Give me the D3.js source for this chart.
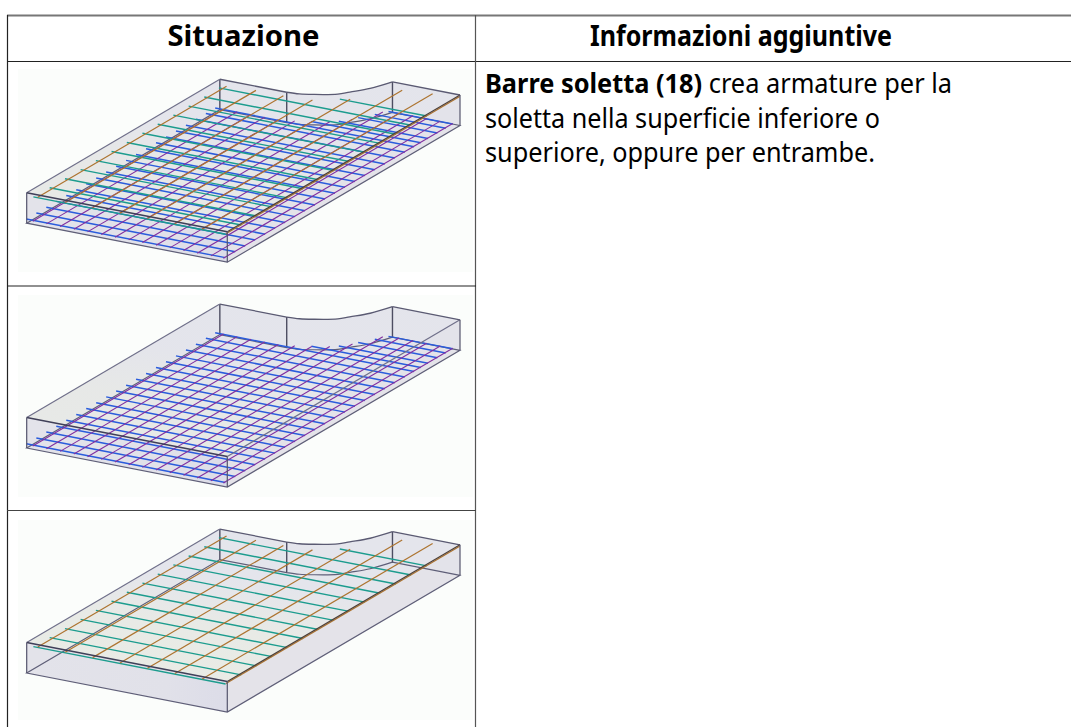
<!DOCTYPE html>
<html>
<head>
<meta charset="utf-8">
<script src="https://cdn.jsdelivr.net/npm/d3@7"></script>
<style>
  html,body{margin:0;padding:0;background:#fff;overflow:hidden}
  text{font-family:"Noto Sans",sans-serif;fill:#000}
</style>
</head>
<body>
<div id="chart"></div>
<script>
const headers = ["Situazione","Informazioni aggiuntive"]
const headerWidths = [152,302]
const bodyLines = [
  [["Barre soletta (18)",true],[" crea armature per la",false]],
  [["soletta nella superficie inferiore o",false]],
  [["superiore, oppure per entrambe.",false]]
]
const bodyWidths = [467,395,390]
// which bars each picture shows
const rowTop = [true,false,true]
const rowBottom = [true,true,false]

// slab plan, u along the front, v towards the back
const notchU = [398,373,341,322,267,235,200]
const notchV = [700,658,629,612,592,584,581]

// top layer: orange long bars, teal cross bars
const topLongU = [36,118,200,282,364,446,528,599]
const topLongEnd = [565,571,571,576,607,681,690,700]
const topCrossV = [-5,42,88,135,181,228,274,321,367,414,460,507,553,600]
const topCrossStart = [25,27,27,27,27,27,27,27,27,27,27,27,25,340]

// bottom layer: purple long bars, blue cross bars
const botLongU = [20,61,102,143,184,225,266,307,348,389,430,471,512,553,590]
const botLongEnd = [572,572,572,572,572,580,590,603,630,680,688,688,688,688,688]
const botCrossV = [2,32,62,92,122,152,182,212,242,272,302,332,362,392,422,452,482,512,542,570,590,612,640,665,686]
const botCrossStart = [-3,-3,-3,-3,-3,-3,-3,-3,-3,-3,-3,-3,-3,-3,-3,-3,-3,-3,-3,-3,265,325,355,380,400]

let width = 1071, height = 727

let svg = d3.select("#chart").append("svg").attr("width",width).attr("height",height).style("display","block")

let defs = svg.append("defs")
defs.append("filter").attr("id","soft").attr("x","-2%").attr("y","-2%").attr("width","104%").attr("height","104%")
  .append("feGaussianBlur").attr("stdDeviation",0.4)
let grad = defs.append("linearGradient").attr("id","topFace").attr("x1",0).attr("y1",1).attr("x2",0.35).attr("y2",0)
grad.append("stop").attr("offset",0).attr("stop-color","#e9ece5")
grad.append("stop").attr("offset",0.45).attr("stop-color","#e8eae6")
grad.append("stop").attr("offset",0.75).attr("stop-color","#e4e5ec")
let frontGrad = defs.append("linearGradient").attr("id","frontFace").attr("x1",0).attr("y1",0).attr("x2",1).attr("y2",0)
frontGrad.append("stop").attr("offset",0).attr("stop-color","#e3e3ea")
frontGrad.append("stop").attr("offset",0.7).attr("stop-color","#e1e1e9")
frontGrad.append("stop").attr("offset",1).attr("stop-color","#dcdce8")

// axonometric scales, screen px per plan unit
let xU = d3.scaleLinear().domain([0,600]).range([0,200.6])
let yU = d3.scaleLinear().domain([0,600]).range([0,39])
let xV = d3.scaleLinear().domain([0,700]).range([0,232.7])
let yV = d3.scaleLinear().domain([0,700]).range([0,-136.7])
let zY = d3.scaleLinear().domain([0,1]).range([30.5,0])

let notch = notchU.map((u,i)=>[u,notchV[i]])

function drawSlab(g,showTop,showBottom){
  let p = (u,v,z)=>[xU(u)+xV(v),yU(u)+yV(v)+zY(z)]
  let line = d3.line().x(d=>d[0]).y(d=>d[1])
  let curve = d3.line().x(d=>d[0]).y(d=>d[1]).curve(d3.curveCatmullRom)
  let arc = z=>curve(notch.map(d=>p(d[0],d[1],z)))
  let ring = z=>line([p(600,700,z)]) + arc(z).replace(/^M/,"L") +
      line([p(0,581,z),p(0,0,z),p(600,0,z)]).replace(/^M/,"L") + "Z"

  // faces
  g.append("path").attr("d",ring(0)).attr("fill","#e3e3ea")
  g.append("path").attr("d",line([p(600,0,1),p(600,700,1),p(600,700,0),p(600,0,0)])+"Z").attr("fill","#e4e3e9")
  g.append("path").attr("d",line([p(0,0,1),p(600,0,1),p(600,0,0),p(0,0,0)])+"Z").attr("fill","url(#frontFace)")
  g.append("path").attr("d",line([p(0,0,1),p(0,581,1),p(0,581,0),p(0,0,0)])+"Z").attr("fill","#e3e3ea")
  g.append("path").attr("d",arc(1)+curve(notch.slice().reverse().map(d=>p(d[0],d[1],0))).replace(/^M/,"L")+"Z").attr("fill","#e3e3ea")
  g.append("path").attr("d",line([p(0,581,1),p(200,581,1),p(200,581,0),p(0,581,0)])+"Z").attr("fill","#e3e3ea")
  g.append("path").attr("d",line([p(398,700,1),p(600,700,1),p(600,700,0),p(398,700,0)])+"Z").attr("fill","#e3e3ea")
  g.append("path").attr("d",ring(1)).attr("fill","url(#topFace)").attr("fill-opacity",showTop&&!showBottom?1:0.75)

  // bottom outline and back verticals sit under the bars
  g.append("path").attr("d",ring(0)).attr("fill","none").attr("stroke","#5f5f78").attr("stroke-width",1.2)
  let verticals = [[0,581],[200,581],[398,700]]
  g.selectAll(".back").data(verticals).enter().append("path")
    .attr("d",d=>line([p(d[0],d[1],1),p(d[0],d[1],0)]))
    .attr("stroke","#4e4e62").attr("stroke-width",1.4)

  if(showBottom){
    g.selectAll(".cross").data(botCrossV).enter().append("path")
      .attr("d",(d,i)=>line([p(botCrossStart[i],d,0.12),p(592,d,0.12)]))
      .attr("stroke","#2a5cdc").attr("stroke-width",1.5).attr("fill","none")
    g.selectAll(".long").data(botLongU).enter().append("path")
      .attr("d",(d,i)=>line([p(d,-2,0.12),p(d,botLongEnd[i],0.12)]))
      .attr("stroke","#8230a0").attr("stroke-width",1.1).attr("fill","none")
  }
  if(showTop){
    g.selectAll(".tcross").data(topCrossV).enter().append("path")
      .attr("d",(d,i)=>line([p(topCrossStart[i],d,0.95),p(600,d,0.95)]))
      .attr("stroke","#1c9c8e").attr("stroke-width",1.4).attr("fill","none")
    g.selectAll(".tlong").data(topLongU).enter().append("path")
      .attr("d",(d,i)=>line([p(d,-3,0.95),p(d,topLongEnd[i],0.95)]))
      .attr("stroke","#ad7430").attr("stroke-width",1.2).attr("fill","none")
  }

  // top outline and the near verticals over the bars
  g.append("path").attr("d",arc(1)).attr("fill","none").attr("stroke","#5a5a72").attr("stroke-width",1.3)
  g.append("path").attr("d",line([p(600,700,1),p(398,700,1)])).attr("stroke","#5a5a72").attr("stroke-width",1.3)
  g.append("path").attr("d",line([p(200,581,1),p(0,581,1)])).attr("stroke","#5a5a72").attr("stroke-width",1.3)
  g.append("path").attr("d",line([p(0,581,1),p(0,0,1)])).attr("stroke","#70708a").attr("stroke-width",1.2)
  g.append("path").attr("d",line([p(600,0,1),p(600,700,1)])).attr("stroke",showTop?"#4f4038":"#70708a").attr("stroke-width",1.2)
  g.append("path").attr("d",line([p(0,0,1),p(600,0,1)])).attr("stroke","#3f3f58").attr("stroke-width",1.4)
  let sides = [[0,0],[600,0],[600,700]]
  g.selectAll(".side").data(sides).enter().append("path")
    .attr("d",d=>line([p(d[0],d[1],1),p(d[0],d[1],0)]))
    .attr("stroke","#55556c").attr("stroke-width",1.2)
}

// pictures
let rowY = [69,295,520]
let rowH = [203,202,200]
let originY = [192.7,417.5,642.5]
rowY.forEach((y,i)=>{
  let pic = svg.append("g").attr("filter","url(#soft)")
  pic.append("rect").attr("x",18).attr("y",y).attr("width",455).attr("height",rowH[i]).attr("fill","#fbfdfb")
  let g = pic.append("g").attr("transform",`translate(26.7,${originY[i]})`)
  drawSlab(g,rowTop[i],rowBottom[i])
})

// table rules
svg.append("line").attr("x1",7).attr("x2",width).attr("y1",15.5).attr("y2",15.5).attr("stroke","#777").attr("stroke-width",2)
svg.append("line").attr("x1",7).attr("x2",width).attr("y1",61.5).attr("y2",61.5).attr("stroke","#222").attr("stroke-width",1)
svg.append("line").attr("x1",7.5).attr("x2",7.5).attr("y1",15).attr("y2",height).attr("stroke","#222").attr("stroke-width",1.2)
svg.append("line").attr("x1",475.5).attr("x2",475.5).attr("y1",15).attr("y2",height).attr("stroke","#555").attr("stroke-width",1.2)
svg.append("line").attr("x1",7).attr("x2",476).attr("y1",286).attr("y2",286).attr("stroke","#222").attr("stroke-width",1.2)
svg.append("line").attr("x1",7).attr("x2",476).attr("y1",510.5).attr("y2",510.5).attr("stroke","#444").attr("stroke-width",1.2)

// text, the source picture squeezes it a bit so widths are forced
let headerX = [243.5,741]
svg.selectAll(".head").data(headers).enter().append("text")
  .attr("x",(d,i)=>headerX[i]).attr("y",46)
  .attr("text-anchor","middle").attr("font-size",29).attr("font-weight",700)
  .attr("textLength",(d,i)=>headerWidths[i]).attr("lengthAdjust","spacingAndGlyphs")
  .text(d=>d)

let lineY = [92.5,127.5,162]
bodyLines.forEach((runs,i)=>{
  let t = svg.append("text").attr("x",485).attr("y",lineY[i]).attr("font-size",26.5).style("white-space","pre")
    .attr("textLength",bodyWidths[i]).attr("lengthAdjust","spacingAndGlyphs")
  runs.forEach(r=>{
    t.append("tspan").attr("font-weight",r[1]?700:400).text(r[0])
  })
})
</script>
</body>
</html>
